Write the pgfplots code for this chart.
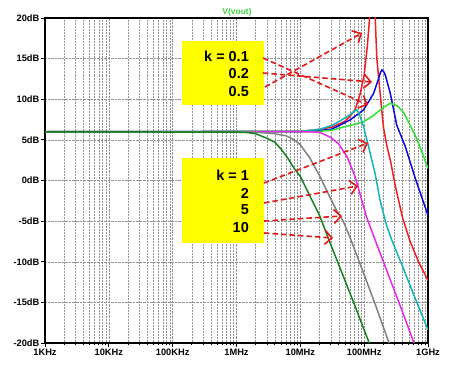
\documentclass[border=0pt]{standalone}
\usepackage{pgfplots}
\pgfplotsset{compat=1.18}
\usepackage{fontspec}
\setmainfont{Liberation Sans}
\usetikzlibrary{arrows.meta}
\definecolor{cRed}{RGB}{240,30,30}
\definecolor{cBlue}{RGB}{10,10,220}
\definecolor{cGreen}{RGB}{50,225,50}
\definecolor{cCyan}{RGB}{20,180,180}
\definecolor{cMag}{RGB}{230,40,230}
\definecolor{cGray}{RGB}{128,128,128}
\definecolor{cDkGreen}{RGB}{20,130,30}
\definecolor{cArrow}{RGB}{225,25,25}
\definecolor{cYellow}{RGB}{255,255,0}
\definecolor{cTitle}{RGB}{60,210,60}
\begin{document}
\begin{tikzpicture}
\useasboundingbox (-45bp,-23bp) rectangle (405bp,343bp);
\begin{axis}[
  scale only axis, width=383bp, height=325bp,
  xmode=log, xmin=1e3, xmax=1e9, ymin=-20, ymax=20,
  xtick={1e3,1e4,1e5,1e6,1e7,1e8,1e9},
  xticklabels={1KHz,10KHz,100KHz,1MHz,10MHz,100MHz,1GHz},
  minor xtick={2e3,3e3,4e3,5e3,6e3,7e3,8e3,9e3,
               2e4,3e4,4e4,5e4,6e4,7e4,8e4,9e4,
               2e5,3e5,4e5,5e5,6e5,7e5,8e5,9e5,
               2e6,3e6,4e6,5e6,6e6,7e6,8e6,9e6,
               2e7,3e7,4e7,5e7,6e7,7e7,8e7,9e7,
               2e8,3e8,4e8,5e8,6e8,7e8,8e8,9e8},
  ytick={-20,-15,-10,-5,0,5,10,15,20},
  yticklabels={-20dB,-15dB,-10dB,-5dB,0dB,5dB,10dB,15dB,20dB},
  tick label style={font=\fontsize{9.3}{10}\selectfont\bfseries, inner sep=1.5pt},
  axis line style={line width=1.3pt},
  tick style={black, line width=0.9pt},
  tick align=outside, tick pos=left,
  major tick length=4bp, minor tick length=2.5bp,
  xmajorgrids, xminorgrids, ymajorgrids,
  grid style={densely dotted, gray!85, line width=0.5pt},
  minor grid style={densely dotted, gray!85, line width=0.5pt},
  every axis plot/.append style={line width=1.5pt},
]
% k = 0.1 (red)
\addplot[cRed] coordinates {
(1e3,6) (1e7,6.05) (2e7,6.3) (3.2e7,6.6) (5e7,7.3) (6e7,7.9) (7.2e7,8.7)
(8.7e7,10.7) (1e8,13) (1.12e8,16.5) (1.23e8,20.5) (1.35e8,26) (1.48e8,20.5)
(1.58e8,15) (1.78e8,10.7) (2e8,6.6) (2.26e8,4.3) (2.57e8,2.5) (3.1e8,-0.8)
(4e8,-4.6) (5.25e8,-7.5) (7.1e8,-10) (1e9,-12.3)};
% k = 0.2 (blue)
\addplot[cBlue] coordinates {
(1e3,6) (1e7,6.02) (2e7,6.15) (3e7,6.3) (3.7e7,6.6) (6e7,7.45) (9.8e7,8.7)
(1.4e8,10.7) (1.66e8,12.4) (1.8e8,13.3) (1.9e8,13.6) (2.02e8,13.4) (2.14e8,13.0)
(2.57e8,10.7) (3.24e8,6.8) (4.4e8,4.2) (6.3e8,0.3) (1e9,-4.3)};
% k = 0.5 (green)
\addplot[cGreen] coordinates {
(1e3,6) (1e7,6.0) (2e7,6.05) (3.2e7,6.2) (4.8e7,6.6) (7e7,6.9) (9.8e7,7.24)
(1.4e8,8.0) (2e8,9.0) (2.57e8,9.5) (3.3e8,9.2) (4.2e8,8.3) (5.25e8,6.8)
(6.8e8,5.0) (8.3e8,3.2) (1e9,1.5)};
% k = 1 (cyan)
\addplot[cCyan] coordinates {
(1e3,6) (1e7,6.05) (2e7,6.3) (3.2e7,6.8) (5e7,7.7) (6e7,8.1) (6.9e7,8.5)
(7.6e7,8.7) (8.3e7,8.3) (9.8e7,6.6) (1.17e8,4.2) (1.48e8,0.9) (1.78e8,-2.5)
(2.24e8,-5.5) (2.7e8,-7.3) (4e8,-10.6) (6.3e8,-14.5) (1e9,-18.4)};
% k = 2 (magenta)
\addplot[cMag] coordinates {
(1e3,6) (1e7,6.0) (2e7,5.95) (3e7,5.3) (4e7,4.5) (5.4e7,2.9) (7.2e7,0.5)
(9e7,-2.2) (1.1e8,-4.6) (1.6e8,-8.0) (2.5e8,-12.0) (4e8,-16.2) (5.9e8,-19.8)
(6.5e8,-20.7)};
% k = 5 (gray)
\addplot[cGray] coordinates {
(1e3,6) (1e6,6.0) (2e6,5.95) (4e6,5.75) (6e6,5.5) (8e6,5.0) (1e7,4.4)
(1.4e7,2.8) (2e7,0.6) (2.8e7,-1.8) (3.7e7,-3.7) (4.7e7,-5.0) (6e7,-7.0)
(1e8,-11.6) (1.5e8,-15.3) (2.4e8,-19.8) (2.6e8,-20.6)};
% k = 10 (dark green)
\addplot[cDkGreen] coordinates {
(1e3,6) (1e6,5.95) (1.5e6,5.9) (2e6,5.75) (3e6,5.2) (4e6,4.7) (5e6,3.85)
(6.3e6,2.8) (8e6,1.5) (1e7,0.5) (1.35e7,-1.6) (2e7,-4.3) (3e7,-7.9)
(5e7,-12.3) (7e7,-15.2) (1e8,-18.4) (1.2e8,-20) (1.3e8,-21)};
\end{axis}
% title
\node[text=cTitle, font=\fontsize{8.5}{9}\selectfont\bfseries] at (192bp,331bp) {V(vout)};
% yellow boxes
\fill[cYellow] (136.7bp,237.7bp) rectangle (219bp,302.3bp);
\fill[cYellow] (136.7bp,99.7bp) rectangle (219bp,184.7bp);
\begin{scope}[every node/.style={anchor=east, inner sep=0pt, font=\fontsize{14.5}{17}\selectfont\bfseries}]
\node at (204bp,286.3bp) {k = 0.1};
\node at (204bp,269bp) {0.2};
\node at (204bp,251.3bp) {0.5};
\node at (204bp,167.3bp) {k = 1};
\node at (204bp,149.7bp) {2};
\node at (204bp,133bp) {5};
\node at (204bp,115.3bp) {10};
\end{scope}
% arrows
\begin{scope}[cArrow, line width=1.6pt, dash pattern=on 5.5bp off 3bp,
  -{Straight Barb[length=7bp,width=14bp,line width=1.6pt]}]
\draw (218bp,285bp) -- (323bp,238bp);
\draw (218bp,270bp) -- (327bp,261bp);
\draw (220bp,256bp) -- (317bp,310bp);
\draw (219bp,160bp) -- (323bp,200bp);
\draw (219bp,140bp) -- (313bp,157bp);
\draw (219bp,122bp) -- (297bp,127bp);
\draw (219bp,110bp) -- (288bp,105bp);
\end{scope}
\end{tikzpicture}
\end{document}
